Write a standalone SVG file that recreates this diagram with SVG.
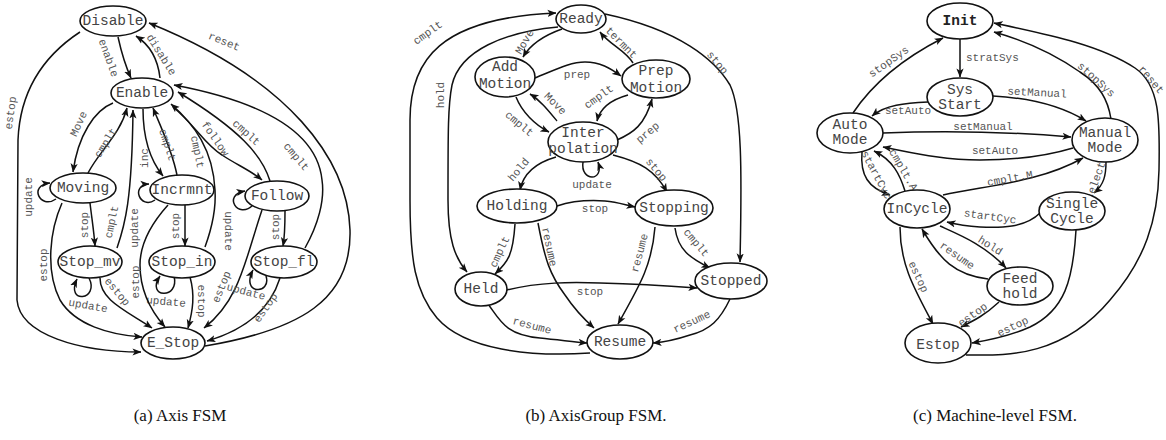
<svg xmlns="http://www.w3.org/2000/svg" width="1166" height="440" viewBox="0 0 1166 440">
<style>
  .n ellipse { fill: #fff; stroke: #111; stroke-width: 1.6; }
  .n text { font-family: "Liberation Mono", "DejaVu Sans Mono", monospace; font-size: 14.5px; fill: #444; text-anchor: middle; dominant-baseline: central; }
  .n text.b { font-weight: bold; fill: #222; }
  .e path { fill: none; stroke: #111; stroke-width: 1.5; marker-end: url(#ah); }
  .e text { font-family: "Liberation Mono", "DejaVu Sans Mono", monospace; font-size: 11px; fill: #555; text-anchor: middle; dominant-baseline: central; }
  .cap { font-family: "Liberation Serif", "DejaVu Serif", serif; font-size: 17px; fill: #111; text-anchor: middle; }
</style>
<defs>
  <marker id="ah" viewBox="0 0 10 10" refX="9.5" refY="5" markerWidth="9" markerHeight="9" markerUnits="userSpaceOnUse" orient="auto">
    <path d="M0,1 L10,5 L0,9 L2.5,5 z" fill="#111"/>
  </marker>
</defs>
<rect width="1166" height="440" fill="#fff"/>

<!-- ===== (a) Axis FSM : connectors ===== -->
<g id="axis-edges" class="e">
  <path d="M118,37 C122,55 125,65 131,78"/>
  <text transform="translate(108,58) rotate(70)">enable</text>
  <path d="M160,78 C158,60 150,45 136,36"/>
  <text transform="translate(161,55) rotate(58)">disable</text>
  <path d="M205,346 C300,330 352,300 350,230 C348,160 290,80 149,23"/>
  <text transform="translate(224,42) rotate(22)">reset</text>
  <path d="M80,32 C45,55 20,90 18,140 L17,300 C20,335 80,352 141,352"/>
  <text transform="translate(11,113) rotate(-82)">estop</text>
  <path d="M113,103 C95,110 78,135 73,172"/>
  <text transform="translate(79,124) rotate(-65)">Move</text>
  <path d="M88,173 C100,150 120,135 127,108"/>
  <text transform="translate(106,143) rotate(-58)">cmplt</text>
  <path d="M56,199 C40,210 28,185 50,183"/>
  <text transform="translate(29,197) rotate(-90)">update</text>
  <path d="M90,203 C92,220 94,232 95,246"/>
  <text transform="translate(85,225) rotate(-90)">stop</text>
  <path d="M89,278 C100,300 65,305 77,279"/>
  <text transform="translate(88,306) rotate(10)">update</text>
  <path d="M117,248 C125,225 132,200 133,110"/>
  <text transform="translate(112,222) rotate(-78)">cmplt</text>
  <path d="M143,109 C143,140 150,160 163,176"/>
  <text transform="translate(145,158) rotate(-90)">inc</text>
  <path d="M177,175 C172,150 160,125 153,108"/>
  <text transform="translate(167,145) rotate(72)">cmplt</text>
  <path d="M205,247 C213,225 216,205 215,190 C213,150 195,125 171,104"/>
  <text transform="translate(197,152) rotate(78)">cmplt</text>
  <path d="M173,107 C195,125 205,145 222,155 C237,165 250,170 262,180"/>
  <text transform="translate(215,139) rotate(55)">follow</text>
  <path d="M270,181 C262,155 240,130 178,92"/>
  <text transform="translate(246,133) rotate(42)">cmplt</text>
  <path d="M305,248 C318,225 325,200 322,180 C318,140 280,105 174,85"/>
  <text transform="translate(296,157) rotate(50)">cmplt</text>
  <path d="M253,205 C238,220 222,195 245,191"/>
  <text transform="translate(228,231) rotate(90)">update</text>
  <path d="M285,211 C285,225 285,235 283,246"/>
  <text transform="translate(276,227) rotate(-90)">stop</text>
  <path d="M262,210 C245,260 240,300 204,328"/>
  <text transform="translate(222,287) rotate(-68)">estop</text>
  <path d="M266,276 C272,295 240,295 253,270"/>
  <text transform="translate(246,292) rotate(15)">update</text>
  <path d="M280,278 C270,310 245,330 207,341"/>
  <text transform="translate(266,308) rotate(-55)">estop</text>
  <path d="M185,205 L185,246"/>
  <text transform="translate(176,226) rotate(-90)">stop</text>
  <path d="M174,276 C180,300 145,298 160,276"/>
  <text transform="translate(166,302) rotate(5)">update</text>
  <path d="M190,277 C195,295 193,310 188,328"/>
  <text transform="translate(201,301) rotate(90)">estop</text>
  <path d="M100,278 C100,300 125,310 152,328"/>
  <text transform="translate(117,292) rotate(50)">estop</text>
  <path d="M62,203 C50,230 45,270 60,300 C75,325 110,335 142,337"/>
  <text transform="translate(44,265) rotate(-90)">estop</text>
  <path d="M168,205 C150,225 140,245 140,265 C140,290 150,310 165,327"/>
  <text transform="translate(136,282) rotate(-90)">estop</text>
  <path d="M155,200 C140,210 130,185 149,184"/>
  <text transform="translate(135,228) rotate(-90)">update</text>
</g>

<!-- ===== (a) Axis FSM : states ===== -->
<g id="axis-disable" class="n"><ellipse cx="113" cy="21" rx="33" ry="15"/><text x="113" y="21">Disable</text></g>
<g id="axis-enable" class="n"><ellipse cx="142" cy="93" rx="31" ry="15"/><text x="142" y="93">Enable</text></g>
<g id="axis-moving" class="n"><ellipse cx="83" cy="188" rx="33" ry="15"/><text x="83" y="188">Moving</text></g>
<g id="axis-incrmnt" class="n"><ellipse cx="182" cy="190" rx="32" ry="15"/><text x="182" y="190">Incrmnt</text></g>
<g id="axis-follow" class="n"><ellipse cx="277" cy="196" rx="32" ry="15"/><text x="277" y="196">Follow</text></g>
<g id="axis-stop-mv" class="n"><ellipse cx="90" cy="262" rx="32" ry="16"/><text x="90" y="262">Stop_mv</text></g>
<g id="axis-stop-in" class="n"><ellipse cx="182" cy="262" rx="33" ry="16"/><text x="182" y="262">Stop_in</text></g>
<g id="axis-stop-fl" class="n"><ellipse cx="284" cy="262" rx="33" ry="16"/><text x="284" y="262">Stop_fl</text></g>
<g id="axis-e-stop" class="n"><ellipse cx="173" cy="343" rx="32" ry="16"/><text x="173" y="343">E_Stop</text></g>

<!-- ===== (b) AxisGroup FSM : connectors ===== -->
<g id="group-edges" class="e">
  <path d="M590,353 C530,357 465,350 437,318 C415,292 410,260 410,200 L410,120 C410,60 440,18 556,13"/>
  <text transform="translate(428,33) rotate(-35)">cmplt</text>
  <path d="M558,27 C505,32 460,50 452,85 C448,105 448,130 448,200 C448,240 455,258 467,272"/>
  <text transform="translate(441,95) rotate(-90)">hold</text>
  <path d="M562,29 C545,35 530,45 523,57"/>
  <text transform="translate(525,42) rotate(-60)">Move</text>
  <path d="M535,78 C555,70 570,62 585,62 C600,62 610,68 621,76"/>
  <text x="577" y="75">prep</text>
  <path d="M633,63 C625,50 610,45 600,32"/>
  <text transform="translate(621,43) rotate(45)">termnt</text>
  <path d="M628,95 C610,100 600,108 597,121"/>
  <text transform="translate(599,97) rotate(-35)">cmplt</text>
  <path d="M617,140 C633,133 645,125 652,99"/>
  <text transform="translate(648,133) rotate(-40)">prep</text>
  <path d="M557,121 C548,110 540,100 530,94"/>
  <text transform="translate(555,104) rotate(45)">Move</text>
  <path d="M516,97 C522,112 535,125 549,132"/>
  <text transform="translate(519,124) rotate(40)">cmplt</text>
  <path d="M583,162 C580,182 605,182 598,162"/>
  <text x="592" y="185">update</text>
  <path d="M556,157 C535,163 523,175 520,190"/>
  <text transform="translate(519,170) rotate(-50)">hold</text>
  <path d="M613,155 C640,162 655,170 667,192"/>
  <text transform="translate(656,170) rotate(50)">stop</text>
  <path d="M557,206 C575,200 590,200 605,201 C618,202 625,205 635,207"/>
  <text x="595" y="209">stop</text>
  <path d="M515,224 C513,255 508,262 495,274"/>
  <text transform="translate(500,252) rotate(-65)">cmplt</text>
  <path d="M538,223 C545,260 550,275 565,295 C575,310 585,320 594,328"/>
  <text transform="translate(549,247) rotate(78)">resume</text>
  <path d="M655,227 C652,265 640,285 618,324"/>
  <text transform="translate(640,253) rotate(-75)">resume</text>
  <path d="M675,228 C678,250 690,258 710,268"/>
  <text transform="translate(696,243) rotate(50)">cmplt</text>
  <path d="M605,14 C680,30 715,60 730,85 C742,110 742,170 740,262"/>
  <text transform="translate(717,63) rotate(50)">stop</text>
  <path d="M507,290 C540,282 570,282 600,283 C640,284 670,286 697,288"/>
  <text x="590" y="292">stop</text>
  <path d="M488,304 C500,320 505,335 540,338 C560,340 575,342 587,343"/>
  <text transform="translate(532,326) rotate(15)">resume</text>
  <path d="M730,299 C720,320 710,330 690,335 C675,340 665,342 653,343"/>
  <text transform="translate(692,322) rotate(-25)">resume</text>
</g>

<!-- ===== (b) AxisGroup FSM : states ===== -->
<g id="group-ready" class="n"><ellipse cx="581" cy="19" rx="25" ry="14"/><text x="581" y="19">Ready</text></g>
<g id="group-add-motion" class="n"><ellipse cx="505" cy="77" rx="30" ry="20"/><text x="505" y="67">Add</text><text x="505" y="84">Motion</text></g>
<g id="group-prep-motion" class="n"><ellipse cx="656" cy="79" rx="34" ry="19"/><text x="656" y="71">Prep</text><text x="656" y="88">Motion</text></g>
<g id="group-interpolation" class="n"><ellipse cx="583" cy="142" rx="35" ry="20"/><text x="583" y="133">Inter</text><text x="583" y="149">polation</text></g>
<g id="group-holding" class="n"><ellipse cx="517" cy="206" rx="40" ry="17"/><text x="517" y="206">Holding</text></g>
<g id="group-stopping" class="n"><ellipse cx="674" cy="208" rx="39" ry="18"/><text x="674" y="208">Stopping</text></g>
<g id="group-held" class="n"><ellipse cx="481" cy="289" rx="26" ry="17"/><text x="481" y="289">Held</text></g>
<g id="group-stopped" class="n"><ellipse cx="731" cy="281" rx="36" ry="18"/><text x="731" y="281">Stopped</text></g>
<g id="group-resume" class="n"><ellipse cx="620" cy="342" rx="33" ry="17"/><text x="620" y="342">Resume</text></g>

<!-- ===== (c) Machine-level FSM : connectors ===== -->
<g id="machine-edges" class="e">
  <path d="M960,39 L960,77"/>
  <text x="966" y="58" style="text-anchor:start">stratSys</text>
  <path d="M853,113 C865,95 890,65 943,38"/>
  <text transform="translate(889,62) rotate(-35)">stopSys</text>
  <path d="M1111,119 C1108,100 1100,85 1080,72 C1060,58 1030,42 994,32"/>
  <text transform="translate(1096,80) rotate(42)">stopSys</text>
  <path d="M966,355 C1000,355 1060,360 1110,300 C1145,260 1158,220 1159,170 C1160,120 1160,85 1135,68 C1100,45 1050,35 994,23"/>
  <text transform="translate(1151,80) rotate(50)">reset</text>
  <path d="M928,102 C905,103 885,105 872,116"/>
  <text x="908" y="111">setAuto</text>
  <path d="M993,96 C1030,98 1060,105 1086,121"/>
  <text transform="translate(1037,93) rotate(3)">setManual</text>
  <path d="M883,133 C930,131 1000,131 1071,137"/>
  <text x="983" y="127">setManual</text>
  <path d="M1073,148 C1040,158 1010,160 980,160 C940,160 910,152 883,147"/>
  <text x="995" y="151">setAuto</text>
  <path d="M943,195 C990,185 1040,182 1083,158"/>
  <text transform="translate(1010,179) rotate(-10)">cmplt.M</text>
  <path d="M862,152 C860,175 868,188 890,195"/>
  <text transform="translate(876,175) rotate(62)">startCyc</text>
  <path d="M905,191 C900,175 893,160 874,151"/>
  <text transform="translate(903,170) rotate(60)">cmplt.A</text>
  <path d="M1040,213 C1025,228 1000,228 980,227 C965,226 955,224 947,222"/>
  <text transform="translate(990,217) rotate(8)">startCyc</text>
  <path d="M1106,162 C1106,175 1104,185 1094,193"/>
  <text transform="translate(1096,181) rotate(-70)">select</text>
  <path d="M940,226 C960,235 985,245 1006,268"/>
  <text transform="translate(990,246) rotate(32)">hold</text>
  <path d="M988,279 C955,275 940,260 922,229"/>
  <text transform="translate(957,256) rotate(35)">resume</text>
  <path d="M900,227 C900,265 915,290 933,324"/>
  <text transform="translate(918,277) rotate(65)">estop</text>
  <path d="M999,302 C985,315 975,320 961,327"/>
  <text transform="translate(973,315) rotate(-35)">estop</text>
  <path d="M1076,230 C1073,280 1065,310 1030,327 C1010,336 990,340 972,343"/>
  <text transform="translate(1013,327) rotate(-25)">estop</text>
</g>

<!-- ===== (c) Machine-level FSM : states ===== -->
<g id="machine-init" class="n"><ellipse cx="960" cy="21" rx="33" ry="18"/><text class="b" x="960" y="21">Init</text></g>
<g id="machine-sys-start" class="n"><ellipse cx="960" cy="97" rx="33" ry="19"/><text x="960" y="90">Sys</text><text x="960" y="105">Start</text></g>
<g id="machine-auto-mode" class="n"><ellipse cx="850" cy="133" rx="33" ry="20"/><text x="850" y="125">Auto</text><text x="850" y="140">Mode</text></g>
<g id="machine-manual-mode" class="n"><ellipse cx="1105" cy="140" rx="33" ry="22"/><text x="1105" y="133">Manual</text><text x="1105" y="148">Mode</text></g>
<g id="machine-incycle" class="n"><ellipse cx="917" cy="209" rx="33" ry="19"/><text x="917" y="209">InCycle</text></g>
<g id="machine-single-cycle" class="n"><ellipse cx="1072" cy="211" rx="33" ry="19"/><text x="1072" y="204">Single</text><text x="1072" y="219">Cycle</text></g>
<g id="machine-feed-hold" class="n"><ellipse cx="1020" cy="286" rx="33" ry="19"/><text x="1020" y="279">Feed</text><text x="1020" y="294">hold</text></g>
<g id="machine-estop" class="n"><ellipse cx="938" cy="343" rx="33" ry="20"/><text x="938" y="345">Estop</text></g>

<!-- captions -->
<text class="cap" x="180" y="421">(a) Axis FSM</text>
<text class="cap" x="596" y="421">(b) AxisGroup FSM.</text>
<text class="cap" x="995" y="421">(c) Machine-level FSM.</text>
</svg>
